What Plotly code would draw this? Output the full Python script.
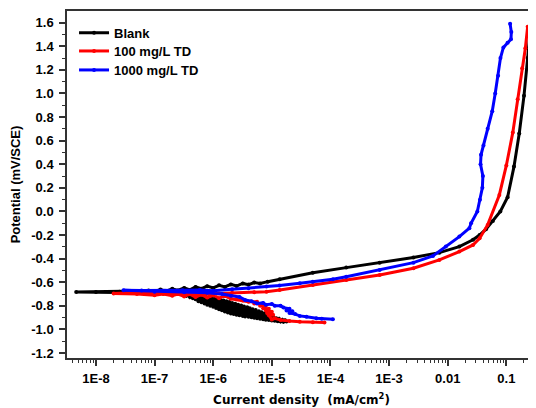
import plotly.graph_objects as go

# ---------------- data ----------------
blank_i = [1.78e-5, 1.68e-5, 1.58e-5, 1.50e-5, 1.41e-5, 1.33e-5, 1.26e-5, 1.19e-5, 1.12e-5, 1.06e-5,
           1.0e-5, 9.4e-6, 8.9e-6, 8.4e-6, 7.9e-6, 7.5e-6, 7.1e-6, 6.7e-6, 6.3e-6, 6.0e-6,
           5.6e-6, 5.3e-6, 5.0e-6, 4.7e-6, 4.5e-6, 4.2e-6, 4.0e-6, 3.8e-6, 3.5e-6, 3.35e-6,
           3.2e-6, 3.0e-6, 2.8e-6, 2.66e-6, 2.5e-6, 2.37e-6, 2.24e-6, 2.1e-6, 2.0e-6, 1.88e-6,
           1.78e-6, 1.68e-6, 1.58e-6, 1.5e-6, 1.41e-6, 1.33e-6, 1.26e-6, 1.19e-6, 1.12e-6, 1.06e-6,
           1.0e-6, 9.4e-7, 8.9e-7, 8.4e-7, 7.9e-7, 7.5e-7, 7.1e-7, 6.7e-7, 6.3e-7, 6.0e-7,
           5.6e-7, 5.3e-7, 5.0e-7, 4.7e-7, 4.5e-7, 4.2e-7, 4.0e-7, 3.8e-7, 3.5e-7, 3.35e-7,
           2.5e-7, 1.58e-7, 1.0e-7, 5.0e-8, 4.6e-9,
           1.0e-8, 2.5e-8, 5.0e-8, 7.9e-8, 1.0e-7, 1.26e-7, 1.58e-7, 2.0e-7, 2.5e-7, 3.2e-7,
           4.0e-7, 5.0e-7, 6.3e-7, 7.9e-7, 1.0e-6, 1.26e-6, 1.58e-6, 2.0e-6, 2.5e-6, 3.2e-6,
           4.0e-6, 5.0e-6, 6.3e-6, 8.5e-6, 1.36e-5, 5.0e-5,
           1.86e-4, 6.9e-4, 2.6e-3, 7.2e-3, 1.58e-2, 2.7e-2, 3.5e-2, 4.5e-2, 5.9e-2, 7.9e-2,
           0.105, 0.135, 0.166, 0.2, 0.231, 0.257]
blank_E = [-0.932, -0.922, -0.934, -0.918, -0.932, -0.912, -0.93, -0.905, -0.927, -0.895,
           -0.924, -0.885, -0.92, -0.875, -0.918, -0.865, -0.913, -0.855, -0.91, -0.845,
           -0.905, -0.836, -0.90, -0.828, -0.897, -0.82, -0.893, -0.812, -0.89, -0.805,
           -0.885, -0.797, -0.88, -0.79, -0.875, -0.782, -0.87, -0.775, -0.865, -0.767,
           -0.857, -0.76, -0.848, -0.755, -0.838, -0.75, -0.828, -0.745, -0.818, -0.74,
           -0.807, -0.736, -0.80, -0.73, -0.79, -0.725, -0.78, -0.72, -0.77, -0.716,
           -0.76, -0.713, -0.745, -0.71, -0.735, -0.708, -0.725, -0.707, -0.715, -0.705,
           -0.70, -0.695, -0.69, -0.688, -0.683,
           -0.682, -0.68, -0.675, -0.67, -0.678, -0.662, -0.675, -0.655, -0.67, -0.648,
           -0.665, -0.64, -0.655, -0.633, -0.648, -0.626, -0.64, -0.618, -0.632, -0.61,
           -0.62, -0.603, -0.61, -0.595, -0.575, -0.519,
           -0.476, -0.434, -0.39, -0.349, -0.298, -0.24, -0.20, -0.15, -0.08, 0.0,
           0.12, 0.38, 0.66, 0.98, 1.30, 1.566]

td100_i = [7.9e-5, 5.0e-5, 3.0e-5, 2.0e-5, 1.41e-5, 1.12e-5, 1.0e-5, 8.9e-6, 1.05e-5, 8.3e-6,
           1.0e-5, 7.9e-6, 8.9e-6, 7.1e-6, 7.9e-6, 6.3e-6, 7.1e-6, 5.0e-6, 5.6e-6, 4.0e-6,
           3.2e-6, 2.5e-6, 2.0e-6, 1.58e-6, 1.26e-6, 1.0e-6, 7.9e-7, 6.3e-7, 5.0e-7, 4.0e-7,
           3.2e-7, 2.5e-7, 2.0e-7, 1.41e-7, 1.0e-7, 5.0e-8, 2.0e-8,
           4.0e-8, 1.0e-7, 2.5e-7, 6.3e-7, 1.26e-6, 2.1e-6, 5.0e-6, 8.1e-6, 1.36e-5, 5.0e-5,
           1.86e-4, 6.9e-4, 2.6e-3, 7.2e-3, 1.58e-2, 2.7e-2, 3.5e-2, 4.8e-2, 7.6e-2, 0.1,
           0.129, 0.156, 0.186, 0.211, 0.231]
td100_E = [-0.942, -0.94, -0.934, -0.928, -0.92, -0.905, -0.915, -0.88, -0.875, -0.86,
           -0.85, -0.84, -0.825, -0.82, -0.80, -0.80, -0.785, -0.78, -0.765, -0.765,
           -0.755, -0.745, -0.74, -0.715, -0.735, -0.71, -0.73, -0.705, -0.725, -0.70,
           -0.72, -0.70, -0.715, -0.70, -0.71, -0.70, -0.695,
           -0.69, -0.695, -0.70, -0.70, -0.695, -0.69, -0.685, -0.68, -0.665, -0.623,
           -0.58, -0.538, -0.481, -0.411, -0.34, -0.284, -0.227, -0.114, 0.14, 0.39,
           0.67, 0.95, 1.214, 1.383, 1.566]

td1000_i = [1.1e-4, 7.1e-5, 5.75e-5, 3.9e-5, 3.0e-5, 2.5e-5, 2.0e-5, 2.24e-5, 1.78e-5, 2.0e-5,
            1.58e-5, 1.41e-5, 1.12e-5, 1.0e-5, 7.9e-6, 7.1e-6, 5.6e-6, 4.5e-6, 3.5e-6, 2.8e-6,
            2.0e-6, 1.41e-6, 7.9e-7, 3.2e-7, 1.0e-7, 2.95e-8,
            6.0e-8, 1.5e-7, 3.0e-7, 5.9e-7, 1.0e-6, 2.1e-6, 4.0e-6, 8.1e-6, 1.35e-5, 3.0e-5,
            5.0e-5, 1.1e-4, 1.86e-4, 6.9e-4, 2.6e-3, 5.6e-3, 9.3e-3, 1.58e-2, 2.34e-2, 2.5e-2,
            3.2e-2, 3.55e-2, 3.9e-2, 3.98e-2, 3.63e-2, 3.7e-2, 4.07e-2, 4.8e-2, 5.75e-2, 6.46e-2,
            7.24e-2, 7.94e-2, 8.9e-2, 0.105, 0.12, 0.1216, 0.116]
td1000_E = [-0.913, -0.91, -0.905, -0.893, -0.885, -0.87, -0.86, -0.845, -0.84, -0.825,
            -0.815, -0.80, -0.80, -0.785, -0.79, -0.775, -0.78, -0.76, -0.75, -0.725,
            -0.715, -0.70, -0.69, -0.685, -0.68, -0.668,
            -0.67, -0.672, -0.668, -0.665, -0.672, -0.66, -0.65, -0.637, -0.628, -0.608,
            -0.595, -0.575, -0.553, -0.496, -0.434, -0.377, -0.298, -0.213, -0.142, -0.10,
            0.0, 0.10, 0.20, 0.30, 0.40, 0.48, 0.56, 0.70, 0.85, 1.0,
            1.15, 1.30, 1.39, 1.43, 1.46, 1.52, 1.59]

series_names = ["Blank", "100 mg/L TD", "1000 mg/L TD"]
series_colors = ["#000000", "#ff0000", "#0000ff"]

x_tick_vals = [1e-8, 1e-7, 1e-6, 1e-5, 1e-4, 1e-3, 1e-2, 1e-1]
x_tick_text = ["1E-8", "1E-7", "1E-6", "1E-5", "1E-4", "1E-3", "0.01", "0.1"]
y_tick_vals = [-1.2, -1.0, -0.8, -0.6, -0.4, -0.2, 0.0, 0.2, 0.4, 0.6, 0.8, 1.0, 1.2, 1.4, 1.6]
y_tick_text = ["-1.2", "-1.0", "-0.8", "-0.6", "-0.4", "-0.2", "0.0", "0.2", "0.4", "0.6",
               "0.8", "1.0", "1.2", "1.4", "1.6"]

# ---------------- figure ----------------
legend_ids = ["legend", "legend2", "legend3"]
legend_y = [0.9375, 0.8847, 0.830]

fig = go.Figure()
for name, xi, yi, col, lg in zip(series_names,
                                 [blank_i, td100_i, td1000_i],
                                 [blank_E, td100_E, td1000_E],
                                 series_colors, legend_ids):
    fig.add_trace(go.Scatter(x=xi, y=yi, name=name, mode="lines+markers",
                             line=dict(color=col, width=3),
                             marker=dict(color=col, size=4),
                             legend=lg))

minor_x = [k * 10.0 ** e for e in range(-9, 0) for k in range(2, 10)]
tick_font = dict(family="Liberation Sans, Arial", size=13, color="#000", weight="bold")
legend_font = dict(family="Liberation Sans, Arial", size=13, color="#000", weight="bold")

legend_layout = {}
for lg, ly in zip(legend_ids, legend_y):
    legend_layout[lg] = dict(x=0.015, y=ly, xanchor="left", yanchor="middle",
                             bgcolor="rgba(0,0,0,0)", font=legend_font)

# The page body adds an 8 px offset, so the margins are shifted by 8 px.
fig.update_layout(
    width=536, height=408,
    margin=dict(l=59, r=8, t=3, b=58, autoexpand=False),
    plot_bgcolor="white", paper_bgcolor="white",
    showlegend=True,
    **legend_layout,
    xaxis=dict(type="log", range=[-8.494, -0.494], automargin=False,
               tickmode="array", tickvals=x_tick_vals, ticktext=x_tick_text,
               ticks="outside", ticklen=6, tickwidth=1.5, tickcolor="#333",
               ticklabelstandoff=2,
               showline=True, linewidth=1.5, linecolor="#333", mirror=True,
               showgrid=False, zeroline=False, tickfont=tick_font,
               minor=dict(tickmode="array", tickvals=minor_x, ticks="outside",
                          ticklen=3, tickwidth=1.2, tickcolor="#333", showgrid=False),
               title=dict(text="Current density  (mA/cm<sup>2</sup>)", standoff=10,
                          font=dict(family="DejaVu Sans, Verdana", size=12, color="#000",
                                    weight="bold"))),
    yaxis=dict(range=[-1.242, 1.699], automargin=False,
               tickmode="array", tickvals=y_tick_vals, ticktext=y_tick_text,
               ticks="outside", ticklen=6, tickwidth=1.5, tickcolor="#333",
               ticklabelstandoff=3,
               showline=True, linewidth=1.5, linecolor="#333", mirror=False,
               showgrid=False, zeroline=False, tickfont=tick_font,
               minor=dict(dtick=0.1, ticks="outside", ticklen=3, tickwidth=1.2,
                          tickcolor="#333", showgrid=False),
               title=dict(text="Potential (mV/SCE)", standoff=18,
                          font=dict(family="Liberation Sans, Arial", size=13, color="#000",
                                    weight="bold"))),
)

fig.write_html("out.html")
